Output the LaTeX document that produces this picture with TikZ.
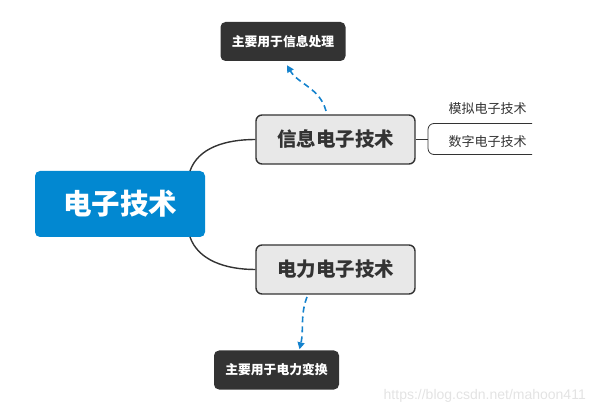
\documentclass[tikz,border=0pt]{standalone}
\usepackage{fontspec}
\newfontfamily\cjk{Noto Sans CJK SC}
\newfontfamily\wm{Liberation Sans}
\usetikzlibrary{arrows.meta,calc}
\definecolor{rootblue}{RGB}{2,136,209}
\definecolor{branchfill}{RGB}{232,232,232}
\definecolor{darkline}{RGB}{51,51,51}
\definecolor{notefill}{RGB}{51,51,51}
\definecolor{arrowblue}{RGB}{20,130,205}
\tikzset{
  rootbox/.style={fill=rootblue, rounded corners=5pt, minimum width=170pt, minimum height=66pt, text=white, font=\cjk\bfseries\fontsize{28.5}{31}\selectfont, inner sep=0pt},
  branchbox/.style={fill=branchfill, draw=darkline, line width=1.4pt, rounded corners=6pt, minimum width=159pt, minimum height=49pt, text=darkline, font=\cjk\bfseries\fontsize{19.5}{22}\selectfont, inner sep=0pt},
  notebox/.style={fill=notefill, rounded corners=5pt, minimum width=125pt, minimum height=39pt, text=white, font=\cjk\bfseries\fontsize{12.8}{15}\selectfont, inner sep=0pt},
  subtext/.style={text=darkline, font=\cjk\fontsize{13}{15}\selectfont, inner sep=0pt},
  conn/.style={draw=darkline, line width=1.4pt},
  subconn/.style={draw=darkline, line width=0.8pt, rounded corners=6pt},
  notearrow/.style={draw=arrowblue, line width=1.6pt, dash pattern=on 6pt off 4pt, -{Triangle[length=7pt,width=7pt]}},
  wmtext/.style={text=black!11, font=\wm\fontsize{14}{16}\selectfont, anchor=east, inner sep=0pt},
}
\begin{document}
\begin{tikzpicture}[x=1pt,y=-1pt]
\useasboundingbox (0,0) rectangle (594,411);
\coordinate (c1) at (190,171);
\coordinate (c2) at (190,237);
\node[rootbox] (root) at (120,204) {电子技术};
\node[branchbox] (b1) at (335.5,139.5) {信息电子技术};
\node[branchbox] (b2) at (335.5,269.5) {电力电子技术};
\draw[conn] (c1) .. controls (198,148) and (225,139.5) .. (b1.west);
\draw[conn] (c2) .. controls (198,260) and (225,269.5) .. (b2.west);
% sub topics
\coordinate (j) at (428,139.5);
\coordinate (s1) at (532,123.5);
\coordinate (s2) at (532,154.5);
\draw[subconn] (b1.east) -- (j);
\draw[subconn] (j) |- (s1);
\draw[subconn] (j) |- (s2);
\node[subtext] (t1) at (487.5,109) {模拟电子技术};
\node[subtext] (t2) at (487.5,142) {数字电子技术};
% notes
\node[notebox] (n1) at (283,41.5) {主要用于信息处理};
\node[notebox] (n2) at (276.5,370) {主要用于电力变换};
\coordinate (a1) at (326,111);
\coordinate (a2) at (307,297);
\draw[notearrow] (a1) .. controls (320,88) and (298,84) .. ($(n1.south)+(4,4)$);
\draw[notearrow] (a2) .. controls (300,315) and (304,330) .. ($(n2.north)+(23,-1)$);
\node[wmtext] (wmk) at (586,396) {https://blog.csdn.net/mahoon411};
\end{tikzpicture}
\end{document}
